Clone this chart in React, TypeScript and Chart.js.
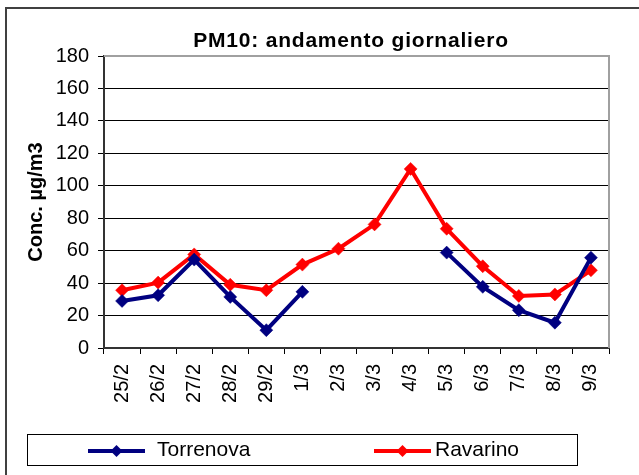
import React, { useEffect, useRef } from "react";
import { Chart, registerables } from "chart.js";

Chart.register(...registerables);

const categories = ["25/2", "26/2", "27/2", "28/2", "29/2", "1/3", "2/3", "3/3", "4/3", "5/3", "6/3", "7/3", "8/3", "9/3"];
const torrenova: (number | null)[] = [29, 32.5, 54.5, 31.5, 11, 34.6, null, null, null, 58.8, 37.7, 23.3, 15.6, 55.7];
const ravarino: (number | null)[] = [35.6, 40.3, 57.7, 39, 35.6, 51.4, 61.2, 76.2, 110.4, 73.5, 50.4, 32.1, 33, 47.9];
const seriesNames = ["Torrenova", "Ravarino"];
const seriesColors = ["#000080", "#FF0000"];
const titleText = "PM10: andamento giornaliero";
const yTitle = "Conc. µg/m3";
const yMin = 0;
const yMax = 180;
const yStep = 20;

const FONT = "'Liberation Sans', Arial, sans-serif";

const framePlugin = {
  id: "frameAndTitle",
  beforeDraw(chart: any) {
    const ctx = chart.ctx;
    ctx.save();
    ctx.fillStyle = "#ffffff";
    ctx.fillRect(0, 0, chart.width, chart.height);
    ctx.strokeStyle = "#404040";
    ctx.lineWidth = 2;
    ctx.strokeRect(6, 8, 660, 500);
    ctx.restore();
  },
  afterDraw(chart: any) {
    const ctx = chart.ctx;
    const a = chart.chartArea;
    ctx.save();
    // plot area top/right border
    ctx.strokeStyle = "#a0a0a0";
    ctx.lineWidth = 2;
    ctx.beginPath();
    ctx.moveTo(a.left, a.top);
    ctx.lineTo(a.right, a.top);
    ctx.lineTo(a.right, a.bottom);
    ctx.stroke();
    // title
    ctx.fillStyle = "#000";
    ctx.font = `bold 21px ${FONT}`;
    ctx.textAlign = "center";
    ctx.textBaseline = "alphabetic";
    try { (ctx as any).letterSpacing = "0.8px"; } catch (e) {}
    ctx.fillText(titleText, 351, 46.5);
    try { (ctx as any).letterSpacing = "0px"; } catch (e) {}
    // legend box
    ctx.strokeStyle = "#000";
    ctx.lineWidth = 1;
    ctx.strokeRect(27.5, 434.5, 550, 31);
    const items = [
      { lx: 88, tx: 157 },
      { lx: 374, tx: 435 },
    ];
    chart.data.datasets.forEach((ds: any, i: number) => {
      const it = items[i];
      const y = 451;
      ctx.strokeStyle = ds.borderColor;
      ctx.lineWidth = 4;
      ctx.beginPath();
      ctx.moveTo(it.lx, y);
      ctx.lineTo(it.lx + 57, y);
      ctx.stroke();
      const cx = it.lx + 28.5;
      const r = 6;
      ctx.fillStyle = ds.borderColor;
      ctx.beginPath();
      ctx.moveTo(cx - r, y);
      ctx.lineTo(cx, y - r);
      ctx.lineTo(cx + r, y);
      ctx.lineTo(cx, y + r);
      ctx.closePath();
      ctx.fill();
      ctx.fillStyle = "#000";
      ctx.font = `21px ${FONT}`;
      ctx.textAlign = "left";
      ctx.textBaseline = "alphabetic";
      ctx.fillText(ds.label, it.tx, 456);
    });
    ctx.restore();
  },
};

export default function App() {
  const ref = useRef<HTMLCanvasElement | null>(null);
  useEffect(() => {
    if (!ref.current) return;
    const chart = new Chart(ref.current, {
      type: "line",
      data: {
        labels: categories,
        datasets: [torrenova, ravarino].map((d, i) => ({
          label: seriesNames[i],
          data: d,
          borderColor: seriesColors[i],
          backgroundColor: seriesColors[i],
          borderWidth: 4,
          tension: 0,
          spanGaps: false,
          pointStyle: "rectRot",
          pointRadius: 6.5,
          pointBorderWidth: 0.5,
          pointBackgroundColor: seriesColors[i],
          pointBorderColor: seriesColors[i],
        })),
      },
      options: {
        responsive: false,
        animation: false,
        devicePixelRatio: 1,
        layout: { padding: { top: 56, right: 30, left: 0, bottom: 0 } },
        plugins: {
          legend: { display: false },
          title: { display: false },
          tooltip: { enabled: false },
        },
        scales: {
          x: {
            type: "category",
            offset: true,
            grid: {
              offset: true,
              drawOnChartArea: false,
              drawTicks: true,
              tickLength: 6,
              color: "#000",
              lineWidth: 1,
            },
            border: { color: "#333", width: 2 },
            ticks: {
              minRotation: 90,
              maxRotation: 90,
              autoSkip: false,
              padding: 10,
              color: "#000",
              font: { family: FONT, size: 20 },
            },
            afterFit: (s: any) => {
              s.height = 127;
            },
          },
          y: {
            min: yMin,
            max: yMax,
            grid: {
              color: "#000",
              lineWidth: 1,
              drawTicks: true,
              tickLength: 6,
            },
            border: { color: "#333", width: 2 },
            ticks: {
              stepSize: yStep,
              padding: 9,
              color: "#000",
              font: { family: FONT, size: 20 },
            },
            title: {
              display: true,
              text: yTitle,
              color: "#000",
              font: { family: FONT, size: 20, weight: "bold" },
              padding: { top: 24, bottom: 0 },
            },
            afterFit: (s: any) => {
              s.width = 104;
            },
          },
        },
      },
      plugins: [framePlugin],
    });
    return () => chart.destroy();
  }, []);
  return (
    <div style={{ position: "fixed", left: 0, top: 0, width: 639, height: 475, background: "#fff" }}>
      <canvas ref={ref} width={639} height={475} style={{ display: "block", width: 639, height: 475 }} />
    </div>
  );
}
